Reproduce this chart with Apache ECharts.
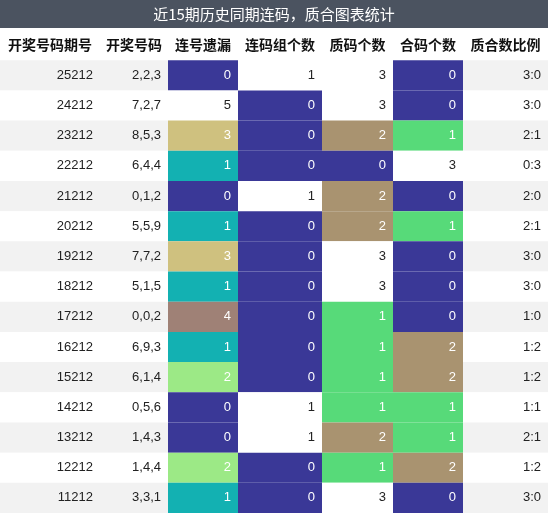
<!DOCTYPE html><html><head><meta charset="utf-8"><script src="https://cdn.jsdelivr.net/npm/echarts@6/dist/echarts.min.js"></script>
<style>html,body{margin:0;padding:0;background:#fff}#c{width:548px;height:513px}</style></head><body><div id="c"></div><script>
const title='近15期历史同期连码，质合图表统计';
const headers=['开奖号码期号','开奖号码','连号遗漏','连码组个数','质码个数','合码个数','质合数比例'];
const periods=['25212','24212','23212','22212','21212','20212','19212','18212','17212','16212','15212','14212','13212','12212','11212'];
const numbers=['2,2,3','7,2,7','8,5,3','6,4,4','0,1,2','5,5,9','7,7,2','5,1,5','0,0,2','6,9,3','6,1,4','0,5,6','1,4,3','1,4,4','3,3,1'];
const lianMiss=[0,5,3,1,0,1,3,1,4,1,2,0,0,2,1];
const lianGroups=[1,0,0,0,1,0,0,0,0,0,0,1,1,0,0];
const primeCnt=[3,3,2,0,2,2,3,3,1,1,1,1,2,1,3];
const compCnt=[0,0,1,3,0,1,0,0,0,2,2,1,1,2,0];
const ratio=['3:0','3:0','2:1','0:3','2:0','2:1','3:0','3:0','1:0','1:2','1:2','1:1','2:1','1:2','3:0'];
const edges=[0,100,168,238,322,393,463,548];
const palettes=[null,null,
 ['#3a3897','#13b1b2','#9ce986','#cfc17f','#9f8176','#ffffff'],
 ['#3a3897','#ffffff'],
 ['#3a3897','#57da79','#a99370','#ffffff'],
 ['#3a3897','#57da79','#a99370','#ffffff']];
const cols=[periods,numbers,lianMiss,lianGroups,primeCnt,compCnt,ratio];
const data=[];
for(let r=0;r<16;r++)for(let c=0;c<7;c++)data.push([c,r]);
const chart=echarts.init(document.getElementById('c'));
chart.setOption({animation:false,
 graphic:[{type:'rect',shape:{x:0,y:0,width:548,height:28},style:{fill:'#4b5360'}},
  {type:'text',x:274,y:14,style:{text:title,fill:'#fff',font:'15px "Noto Sans CJK SC"',align:'center',verticalAlign:'middle'}}],
 grid:{left:0,right:0,top:30,bottom:0},
 xAxis:{type:'value',min:0,max:548,show:false},
 yAxis:{type:'category',data:['h'].concat(periods),inverse:true,show:false},
 series:[{type:'custom',data:data,renderItem:function(p,api){
  const c=api.value(0),r=api.value(1);
  const x0=api.coord([edges[c],r])[0],x1=api.coord([edges[c+1],r])[0];
  const cy=api.coord([0,r])[1],h=api.size([0,1])[1];
  const y0=cy-h/2;
  if(r===0){return {type:'text',style:{text:headers[c],x:(x0+x1)/2,y:cy,align:'center',verticalAlign:'middle',fill:'#111',font:'bold 14px "Noto Sans CJK SC"'}};}
  const i=r-1;const v=cols[c][i];
  let bg=(i%2===0)?'#f2f2f2':'#ffffff',fg='#222';
  if(palettes[c]){const col=palettes[c][v];if(col!=='#ffffff'){bg=col;fg='#fff';}else bg='#ffffff';}
  const children=[{type:'rect',shape:{x:x0,y:y0,width:x1-x0,height:h},style:{fill:bg}}];
  children.push({type:'text',style:{text:String(v),x:x1-7,y:cy,align:'right',verticalAlign:'middle',fill:fg,font:'13px "Liberation Sans"'}});
  return {type:'group',children:children};
 }}]
});
</script></body></html>
